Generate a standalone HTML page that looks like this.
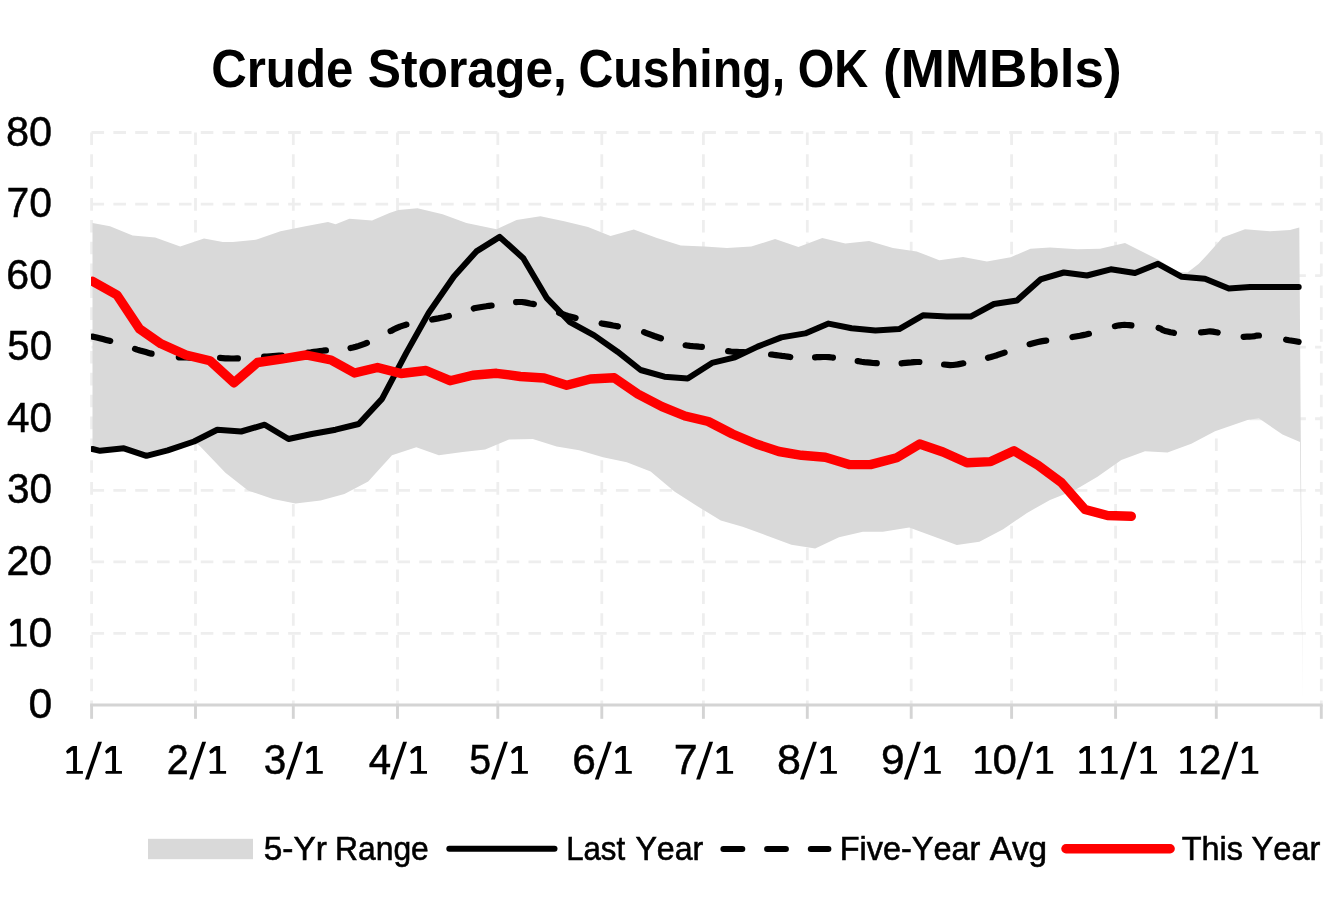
<!DOCTYPE html>
<html lang="en">
<head>
<meta charset="utf-8">
<title>Crude Storage, Cushing, OK (MMBbls)</title>
<style>
  html, body { margin: 0; padding: 0; background: #ffffff; }
  body { width: 1333px; height: 900px; overflow: hidden; font-family: "Liberation Sans", sans-serif; }
  svg { display: block; }
  svg { will-change: transform; }
  text { font-family: "Liberation Sans", sans-serif; fill: #000000; font-kerning: none; }
  .title text { font-weight: bold; font-size: 53.5px; }
  .axis text { font-size: 43.0px; stroke: #000000; stroke-width: 0.5px; }
  .axis path { fill: #000000; }
  .legend text { font-size: 34.0px; stroke: #000000; stroke-width: 0.6px; }
</style>
</head>
<body>
<svg width="1333" height="900" viewBox="0 0 1333 900">
  <rect x="0" y="0" width="1333" height="900" fill="#ffffff"/>

  <defs><clipPath id="plot"><rect x="91" y="100" width="1240" height="640"/></clipPath></defs>

  <!-- chart title -->
  <g class="title">
    <text x="211.18" y="87.20" textLength="142.20" lengthAdjust="spacingAndGlyphs">Crude</text>
    <text x="367.77" y="87.20" textLength="199.16" lengthAdjust="spacingAndGlyphs">Storage,</text>
    <text x="578.42" y="87.20" textLength="206.82" lengthAdjust="spacingAndGlyphs">Cushing,</text>
    <text x="797.77" y="87.20" textLength="70.46" lengthAdjust="spacingAndGlyphs">OK</text>
    <text x="883.06" y="87.20" textLength="238.68" lengthAdjust="spacingAndGlyphs">(MMBbls)</text>
  </g>

  <!-- gridlines -->
  <g stroke="#eeeeee" stroke-width="2.8" stroke-dasharray="12.6 9.25" fill="none">
    <line x1="91.5" y1="132.50" x2="1321.3" y2="132.50"/><line x1="91.5" y1="204.06" x2="1321.3" y2="204.06"/><line x1="91.5" y1="275.62" x2="1321.3" y2="275.62"/><line x1="91.5" y1="347.18" x2="1321.3" y2="347.18"/><line x1="91.5" y1="418.74" x2="1321.3" y2="418.74"/><line x1="91.5" y1="490.30" x2="1321.3" y2="490.30"/><line x1="91.5" y1="561.86" x2="1321.3" y2="561.86"/><line x1="91.5" y1="633.42" x2="1321.3" y2="633.42"/><line x1="91.6" y1="132.50" x2="91.6" y2="704.98"/><line x1="195.5" y1="132.50" x2="195.5" y2="704.98"/><line x1="293.3" y1="132.50" x2="293.3" y2="704.98"/><line x1="397.5" y1="132.50" x2="397.5" y2="704.98"/><line x1="497.8" y1="132.50" x2="497.8" y2="704.98"/><line x1="601.8" y1="132.50" x2="601.8" y2="704.98"/><line x1="703.4" y1="132.50" x2="703.4" y2="704.98"/><line x1="807.3" y1="132.50" x2="807.3" y2="704.98"/><line x1="911.2" y1="132.50" x2="911.2" y2="704.98"/><line x1="1011.6" y1="132.50" x2="1011.6" y2="704.98"/><line x1="1115.6" y1="132.50" x2="1115.6" y2="704.98"/><line x1="1216.3" y1="132.50" x2="1216.3" y2="704.98"/><line x1="1321.3" y1="132.50" x2="1321.3" y2="704.98"/>
  </g>

  <!-- 5-year range band (opaque, above the grid) -->
  <polygon fill="#d9d9d9" points="92.5,223.1 110.0,226.3 132.6,235.6 155.2,237.6 180.2,246.4 204.0,238.4 222.8,241.9 232.9,242.1 256.7,239.6 280.5,231.3 305.5,226.3 328.0,222.1 335.6,224.3 349.4,218.8 372.0,220.6 389.5,213.0 398.3,210.0 417.5,208.3 442.6,214.3 466.4,223.1 496.5,229.3 516.5,220.1 540.4,216.3 564.2,221.3 588.0,227.1 610.5,235.9 633.8,229.6 656.9,238.1 680.7,245.6 704.5,246.4 727.0,248.1 751.3,246.6 775.1,238.9 798.4,246.9 822.3,238.1 845.3,243.4 869.1,240.9 892.9,248.1 916.7,251.4 939.3,260.2 963.1,256.9 986.9,261.4 1010.7,257.2 1030.5,248.8 1050.0,247.5 1077.5,249.3 1100.0,248.8 1125.0,243.0 1158.8,260.0 1178.0,272.0 1187.5,272.5 1198.8,263.8 1207.5,254.5 1222.5,237.5 1245.0,229.3 1270.0,231.3 1290.0,230.0 1299.3,227.5 1302.7,705.0 1300.0,442.0 1282.5,434.5 1258.8,418.3 1247.5,420.0 1215.0,431.3 1191.3,443.8 1167.5,452.5 1145.0,451.3 1121.3,460.0 1097.5,476.8 1075.0,490.0 1050.0,500.0 1027.0,512.9 1003.2,529.2 979.4,541.8 956.8,545.0 933.0,536.2 909.2,527.5 882.9,531.7 862.9,531.7 839.0,537.2 815.2,548.5 791.4,544.8 766.4,535.5 742.6,526.7 720.8,520.5 698.2,506.7 674.4,491.6 650.6,471.6 626.8,462.3 603.0,457.3 579.2,450.3 556.6,446.5 532.8,439.0 509.0,439.5 485.2,449.5 462.7,452.0 438.8,455.3 416.3,447.3 392.0,455.3 368.2,481.6 344.4,494.1 320.6,500.4 295.5,503.4 273.0,499.1 248.0,490.4 225.4,472.8 200.3,446.5 194.0,441.5 167.7,450.3 146.4,455.8 123.9,448.3 100.0,450.8 92.5,449.0"/>

  <!-- x axis line + ticks -->
  <g stroke="#d4d4d4" stroke-width="2.9" fill="none">
    <line x1="90.1" y1="705.0" x2="1322.7" y2="705.0"/>
    <line x1="91.6" y1="705.0" x2="91.6" y2="718.8"/><line x1="195.5" y1="705.0" x2="195.5" y2="718.8"/><line x1="293.3" y1="705.0" x2="293.3" y2="718.8"/><line x1="397.5" y1="705.0" x2="397.5" y2="718.8"/><line x1="497.8" y1="705.0" x2="497.8" y2="718.8"/><line x1="601.8" y1="705.0" x2="601.8" y2="718.8"/><line x1="703.4" y1="705.0" x2="703.4" y2="718.8"/><line x1="807.3" y1="705.0" x2="807.3" y2="718.8"/><line x1="911.2" y1="705.0" x2="911.2" y2="718.8"/><line x1="1011.6" y1="705.0" x2="1011.6" y2="718.8"/><line x1="1115.6" y1="705.0" x2="1115.6" y2="718.8"/><line x1="1216.3" y1="705.0" x2="1216.3" y2="718.8"/><line x1="1321.3" y1="705.0" x2="1321.3" y2="718.8"/>
  </g>

  <!-- last year -->
  <polyline clip-path="url(#plot)" fill="none" stroke="#000000" stroke-width="6" stroke-linejoin="round" stroke-linecap="round" points="92.5,449.0 100.0,450.8 123.9,448.3 146.4,455.8 167.7,450.3 194.0,441.5 217.3,429.7 241.2,431.5 264.7,424.7 288.5,439.0 311.8,434.0 335.6,429.7 358.7,424.0 382.0,398.9 406.3,352.9 428.8,312.8 453.9,276.5 476.4,251.4 499.7,236.9 523.3,258.2 546.6,297.8 569.9,322.1 594.2,335.4 617.5,351.7 640.6,370.0 664.4,376.7 687.7,378.5 712.0,362.9 735.0,357.4 757.6,346.6 781.4,337.4 805.2,333.4 828.5,323.6 851.6,328.3 875.4,330.4 899.2,329.1 923.0,315.3 946.8,316.6 970.6,316.6 993.9,304.0 1017.0,300.5 1040.5,279.4 1063.8,272.5 1087.0,275.5 1110.8,269.3 1135.0,273.0 1158.0,263.8 1181.8,276.8 1205.0,278.8 1228.8,288.6 1250.0,287.0 1298.7,287.0"/>

  <!-- five-year average (dashed) -->
  <path clip-path="url(#plot)" fill="none" stroke="#000000" stroke-width="6.2" stroke-linejoin="round" stroke-linecap="round" d="M92.5 336.6 L94.3 337.0 L96.7 337.6 L99.6 338.3 L102.8 339.1 L106.1 339.9 L109.5 340.7 L110.2 340.9 M135.0 348.9 L137.0 349.6 L140.0 350.5 L142.9 351.3 L145.8 352.1 L148.7 352.9 L151.5 353.7 L151.6 353.7 M178.8 357.3 L181.0 357.3 L184.0 357.4 L187.0 357.5 L190.0 357.6 L193.0 357.6 L195.9 357.6 M220.1 357.9 L222.5 358.1 L225.3 358.3 L228.2 358.4 L231.1 358.5 L234.0 358.5 L237.0 358.4 L237.9 358.4 M264.1 356.6 L267.0 356.5 L270.1 356.3 L273.1 356.1 L276.1 355.9 L279.0 355.7 L281.9 355.5 M308.1 352.6 L310.9 352.3 L313.9 351.9 L316.9 351.5 L320.0 351.1 L323.0 350.7 L325.9 350.4 M350.5 348.0 L353.0 347.5 L355.9 346.8 L358.8 345.9 L361.7 344.9 L364.5 343.9 L366.9 342.9 M390.6 331.1 L391.0 330.9 L394.0 329.3 L397.0 327.9 L400.0 326.6 L403.0 325.6 L406.0 324.7 L406.4 324.6 M432.1 319.5 L432.7 319.4 L435.5 318.9 L438.3 318.4 L441.2 317.8 L444.1 317.2 L447.0 316.5 L448.9 316.0 M473.8 308.4 L474.0 308.3 L477.0 307.7 L480.0 307.2 L483.1 306.7 L486.1 306.3 L489.1 305.8 L491.6 305.5 M516.1 302.1 L518.0 302.0 L521.8 302.0 L524.7 302.4 L527.3 302.9 L530.0 303.5 L532.7 303.9 L533.9 304.1 M559.1 312.9 L562.0 314.0 L565.0 315.0 L568.0 315.9 L570.9 316.7 L573.9 317.5 L575.6 318.0 M601.6 323.5 L604.0 323.9 L607.0 324.4 L610.0 324.9 L613.0 325.5 L616.0 326.0 L617.9 326.4 M644.1 332.2 L645.7 332.8 L648.5 333.8 L651.3 334.9 L654.2 336.0 L657.1 337.0 L660.0 338.0 L660.9 338.3 M685.6 345.3 L687.0 345.5 L690.0 345.9 L693.0 346.2 L696.1 346.4 L699.1 346.7 L701.9 346.9 M728.1 351.1 L731.0 351.5 L734.0 351.8 L736.9 351.9 L739.9 352.0 L742.9 352.1 L743.9 352.1 M771.1 354.5 L773.1 354.7 L776.0 355.1 L779.0 355.5 L781.9 355.9 L784.8 356.2 L787.7 356.6 L790.3 357.0 M815.1 357.4 L817.0 357.2 L820.0 357.1 L823.0 357.0 L826.0 357.0 L829.0 357.2 L832.0 357.5 L832.9 357.6 M857.7 361.1 L858.7 361.2 L861.5 361.7 L864.3 362.1 L867.2 362.4 L870.1 362.7 L873.0 363.0 L876.0 363.2 L876.8 363.2 M901.6 363.3 L902.8 363.2 L905.7 362.9 L908.5 362.6 L911.3 362.4 L914.2 362.1 L917.1 362.0 L919.4 362.0 M944.1 364.5 L947.9 364.9 L950.2 365.1 L953.0 365.0 L955.3 364.7 L957.8 364.4 L960.4 363.9 L963.3 363.3 M988.0 357.8 L991.0 357.0 L994.0 356.1 L997.0 355.2 L1000.0 354.1 L1003.1 353.1 L1004.6 352.6 M1029.6 344.2 L1032.2 343.5 L1035.1 342.7 L1038.0 342.0 L1041.0 341.4 L1043.9 340.9 L1046.2 340.6 M1072.4 337.0 L1074.0 336.7 L1077.0 336.2 L1080.0 335.7 L1083.0 335.1 L1086.0 334.5 L1088.9 333.8 M1114.9 326.2 L1116.8 325.8 L1119.4 325.3 L1122.0 325.0 L1124.5 324.9 L1126.8 325.0 L1129.4 325.2 L1131.4 325.4 M1158.6 328.0 L1160.6 328.6 L1162.3 329.9 L1165.0 331.0 L1167.6 331.6 L1170.4 332.3 L1173.6 332.8 L1173.9 332.9 M1201.1 332.3 L1202.9 332.2 L1205.0 332.0 L1208.4 331.5 L1210.0 331.3 L1212.8 331.6 L1216.1 332.2 L1217.7 332.5 M1243.6 336.8 L1243.9 336.8 L1246.9 336.7 L1249.7 336.6 L1252.0 336.5 L1255.0 336.1 L1257.1 335.6 L1258.9 335.5 M1286.1 339.7 L1289.0 340.2 L1292.4 340.7 L1295.5 341.2 L1298.1 341.7 L1298.6 341.8"/>

  <!-- this year -->
  <polyline clip-path="url(#plot)" fill="none" stroke="#ff0000" stroke-width="9.4" stroke-linejoin="round" stroke-linecap="round" points="92.5,281.3 117.0,295.0 139.5,328.8 161.0,343.8 186.0,355.0 210.0,360.8 234.0,382.8 257.5,362.5 282.5,358.8 306.0,355.0 331.0,360.0 354.5,373.0 377.5,367.5 401.0,373.5 426.0,370.5 450.0,380.7 472.7,375.3 496.5,373.3 520.3,376.5 544.0,378.0 566.7,385.3 590.5,379.0 614.3,377.8 638.0,394.1 662.0,406.6 685.0,416.0 708.3,421.5 732.5,434.0 756.3,444.0 778.9,451.5 801.5,455.3 825.3,457.3 849.1,464.6 870.4,464.6 896.7,457.8 919.7,444.0 943.0,452.0 966.9,462.8 990.7,461.6 1014.0,450.8 1038.0,465.2 1061.3,482.5 1085.0,509.5 1107.5,515.5 1131.3,516.3"/>

  <!-- axis labels -->
  <g class="axis">
    <text x="5.89" y="145.60" textLength="46.23" lengthAdjust="spacingAndGlyphs">80</text>
    <text x="6.60" y="217.16" textLength="45.49" lengthAdjust="spacingAndGlyphs">70</text>
    <text x="6.31" y="288.72" textLength="45.80" lengthAdjust="spacingAndGlyphs">60</text>
    <text x="7.29" y="360.28" textLength="44.78" lengthAdjust="spacingAndGlyphs">50</text>
    <text x="7.07" y="431.84" textLength="45.01" lengthAdjust="spacingAndGlyphs">40</text>
    <text x="7.06" y="503.40" textLength="45.02" lengthAdjust="spacingAndGlyphs">30</text>
    <text x="6.54" y="574.96" textLength="45.56" lengthAdjust="spacingAndGlyphs">20</text>
    <path d="M16.86 618.72 L14.90 619.52 L12.10 621.52 L9.80 624.02 L11.00 626.52 L13.50 625.42 L15.50 623.42 L16.86 623.42 L16.86 643.72 L10.80 643.72 L9.80 644.92 L10.80 646.52 L26.70 646.52 L26.70 643.72 L20.76 643.72 L20.76 618.72Z"/>
    <text x="28.43" y="646.52" textLength="23.73" lengthAdjust="spacingAndGlyphs">0</text>
    <text x="28.43" y="718.08" textLength="23.73" lengthAdjust="spacingAndGlyphs">0</text>
    <path d="M73.06 746.00 L71.10 746.80 L68.30 748.80 L66.00 751.30 L67.20 753.80 L69.70 752.70 L71.70 750.70 L73.06 750.70 L73.06 771.00 L67.00 771.00 L66.00 772.20 L67.00 773.80 L82.90 773.80 L82.90 771.00 L76.96 771.00 L76.96 746.00Z"/>
    <path d="M85.00 779.60 L88.90 779.60 L101.94 741.80 L98.04 741.80Z"/>
    <path d="M112.10 746.00 L110.14 746.80 L107.34 748.80 L105.04 751.30 L106.24 753.80 L108.74 752.70 L110.74 750.70 L112.10 750.70 L112.10 771.00 L106.04 771.00 L105.04 772.20 L106.04 773.80 L121.94 773.80 L121.94 771.00 L116.00 771.00 L116.00 746.00Z"/>
    <text x="166.71" y="773.80" textLength="21.97" lengthAdjust="spacingAndGlyphs">2</text>
    <path d="M189.16 779.60 L193.06 779.60 L206.10 741.80 L202.20 741.80Z"/>
    <path d="M216.26 746.00 L214.30 746.80 L211.50 748.80 L209.20 751.30 L210.40 753.80 L212.90 752.70 L214.90 750.70 L216.26 750.70 L216.26 771.00 L210.20 771.00 L209.20 772.20 L210.20 773.80 L226.10 773.80 L226.10 771.00 L220.16 771.00 L220.16 746.00Z"/>
    <text x="263.86" y="773.80" textLength="22.52" lengthAdjust="spacingAndGlyphs">3</text>
    <path d="M285.86 779.60 L289.76 779.60 L302.80 741.80 L298.90 741.80Z"/>
    <path d="M312.96 746.00 L311.00 746.80 L308.20 748.80 L305.90 751.30 L307.10 753.80 L309.60 752.70 L311.60 750.70 L312.96 750.70 L312.96 771.00 L306.90 771.00 L305.90 772.20 L306.90 773.80 L322.80 773.80 L322.80 771.00 L316.86 771.00 L316.86 746.00Z"/>
    <text x="368.68" y="773.80" textLength="22.40" lengthAdjust="spacingAndGlyphs">4</text>
    <path d="M390.06 779.60 L393.96 779.60 L407.00 741.80 L403.10 741.80Z"/>
    <path d="M417.16 746.00 L415.20 746.80 L412.40 748.80 L410.10 751.30 L411.30 753.80 L413.80 752.70 L415.80 750.70 L417.16 750.70 L417.16 771.00 L411.10 771.00 L410.10 772.20 L411.10 773.80 L427.00 773.80 L427.00 771.00 L421.06 771.00 L421.06 746.00Z"/>
    <text x="469.32" y="773.80" textLength="21.94" lengthAdjust="spacingAndGlyphs">5</text>
    <path d="M490.96 779.60 L494.86 779.60 L507.90 741.80 L504.00 741.80Z"/>
    <path d="M518.06 746.00 L516.10 746.80 L513.30 748.80 L511.00 751.30 L512.20 753.80 L514.70 752.70 L516.70 750.70 L518.06 750.70 L518.06 771.00 L512.00 771.00 L511.00 772.20 L512.00 773.80 L527.90 773.80 L527.90 771.00 L521.96 771.00 L521.96 746.00Z"/>
    <text x="572.24" y="773.80" textLength="23.62" lengthAdjust="spacingAndGlyphs">6</text>
    <path d="M594.86 779.60 L598.76 779.60 L611.80 741.80 L607.90 741.80Z"/>
    <path d="M621.96 746.00 L620.00 746.80 L617.20 748.80 L614.90 751.30 L616.10 753.80 L618.60 752.70 L620.60 750.70 L621.96 750.70 L621.96 771.00 L615.90 771.00 L614.90 772.20 L615.90 773.80 L631.80 773.80 L631.80 771.00 L625.86 771.00 L625.86 746.00Z"/>
    <text x="673.69" y="773.80" textLength="23.98" lengthAdjust="spacingAndGlyphs">7</text>
    <path d="M696.16 779.60 L700.06 779.60 L713.10 741.80 L709.20 741.80Z"/>
    <path d="M723.26 746.00 L721.30 746.80 L718.50 748.80 L716.20 751.30 L717.40 753.80 L719.90 752.70 L721.90 750.70 L723.26 750.70 L723.26 771.00 L717.20 771.00 L716.20 772.20 L717.20 773.80 L733.10 773.80 L733.10 771.00 L727.16 771.00 L727.16 746.00Z"/>
    <text x="776.93" y="773.80" textLength="23.94" lengthAdjust="spacingAndGlyphs">8</text>
    <path d="M799.96 779.60 L803.86 779.60 L816.90 741.80 L813.00 741.80Z"/>
    <path d="M827.06 746.00 L825.10 746.80 L822.30 748.80 L820.00 751.30 L821.20 753.80 L823.70 752.70 L825.70 750.70 L827.06 750.70 L827.06 771.00 L821.00 771.00 L820.00 772.20 L821.00 773.80 L836.90 773.80 L836.90 771.00 L830.96 771.00 L830.96 746.00Z"/>
    <text x="881.01" y="773.80" textLength="23.60" lengthAdjust="spacingAndGlyphs">9</text>
    <path d="M903.86 779.60 L907.76 779.60 L920.80 741.80 L916.90 741.80Z"/>
    <path d="M930.96 746.00 L929.00 746.80 L926.20 748.80 L923.90 751.30 L925.10 753.80 L927.60 752.70 L929.60 750.70 L930.96 750.70 L930.96 771.00 L924.90 771.00 L923.90 772.20 L924.90 773.80 L940.80 773.80 L940.80 771.00 L934.86 771.00 L934.86 746.00Z"/>
    <path d="M981.81 746.00 L979.85 746.80 L977.05 748.80 L974.75 751.30 L975.95 753.80 L978.45 752.70 L980.45 750.70 L981.81 750.70 L981.81 771.00 L975.75 771.00 L974.75 772.20 L975.75 773.80 L991.65 773.80 L991.65 771.00 L985.71 771.00 L985.71 746.00Z"/>
    <text x="992.58" y="773.80" textLength="24.43" lengthAdjust="spacingAndGlyphs">0</text>
    <path d="M1016.26 779.60 L1020.16 779.60 L1033.20 741.80 L1029.30 741.80Z"/>
    <path d="M1043.36 746.00 L1041.40 746.80 L1038.60 748.80 L1036.30 751.30 L1037.50 753.80 L1040.00 752.70 L1042.00 750.70 L1043.36 750.70 L1043.36 771.00 L1037.30 771.00 L1036.30 772.20 L1037.30 773.80 L1053.20 773.80 L1053.20 771.00 L1047.26 771.00 L1047.26 746.00Z"/>
    <path d="M1086.06 746.00 L1084.10 746.80 L1081.30 748.80 L1079.00 751.30 L1080.20 753.80 L1082.70 752.70 L1084.70 750.70 L1086.06 750.70 L1086.06 771.00 L1080.00 771.00 L1079.00 772.20 L1080.00 773.80 L1095.90 773.80 L1095.90 771.00 L1089.96 771.00 L1089.96 746.00Z"/>
    <path d="M1107.86 746.00 L1105.90 746.80 L1103.10 748.80 L1100.80 751.30 L1102.00 753.80 L1104.50 752.70 L1106.50 750.70 L1107.86 750.70 L1107.86 771.00 L1101.80 771.00 L1100.80 772.20 L1101.80 773.80 L1117.70 773.80 L1117.70 771.00 L1111.76 771.00 L1111.76 746.00Z"/>
    <path d="M1120.06 779.60 L1123.96 779.60 L1137.00 741.80 L1133.10 741.80Z"/>
    <path d="M1147.16 746.00 L1145.20 746.80 L1142.40 748.80 L1140.10 751.30 L1141.30 753.80 L1143.80 752.70 L1145.80 750.70 L1147.16 750.70 L1147.16 771.00 L1141.10 771.00 L1140.10 772.20 L1141.10 773.80 L1157.00 773.80 L1157.00 771.00 L1151.06 771.00 L1151.06 746.00Z"/>
    <path d="M1186.96 746.00 L1185.00 746.80 L1182.20 748.80 L1179.90 751.30 L1181.10 753.80 L1183.60 752.70 L1185.60 750.70 L1186.96 750.70 L1186.96 771.00 L1180.90 771.00 L1179.90 772.20 L1180.90 773.80 L1196.80 773.80 L1196.80 771.00 L1190.86 771.00 L1190.86 746.00Z"/>
    <text x="1198.88" y="773.80" textLength="22.34" lengthAdjust="spacingAndGlyphs">2</text>
    <path d="M1221.36 779.60 L1225.26 779.60 L1238.30 741.80 L1234.40 741.80Z"/>
    <path d="M1248.46 746.00 L1246.50 746.80 L1243.70 748.80 L1241.40 751.30 L1242.60 753.80 L1245.10 752.70 L1247.10 750.70 L1248.46 750.70 L1248.46 771.00 L1242.40 771.00 L1241.40 772.20 L1242.40 773.80 L1258.30 773.80 L1258.30 771.00 L1252.36 771.00 L1252.36 746.00Z"/>
  </g>

  <!-- legend -->
  <g class="legend">
    <rect x="148" y="838.8" width="105" height="20.4" fill="#d9d9d9"/>
    <line x1="449.3" y1="848.8" x2="554.5" y2="848.8" stroke="#000000" stroke-width="6" stroke-linecap="round"/>
    <g stroke="#000000" stroke-width="6" stroke-linecap="round">
      <line x1="723.4" y1="848.9" x2="742.3" y2="848.9"/>
      <line x1="767.1" y1="848.9" x2="785.9" y2="848.9"/>
      <line x1="810.8" y1="848.9" x2="828.4" y2="848.9"/>
    </g>
    <line x1="1066" y1="848.75" x2="1170.1" y2="848.75" stroke="#ff0000" stroke-width="9.5" stroke-linecap="round"/>
    <text x="263.77" y="859.90" textLength="62.99" lengthAdjust="spacingAndGlyphs">5-Yr</text>
    <text x="335.09" y="859.90" textLength="93.72" lengthAdjust="spacingAndGlyphs">Range</text>
    <text x="566.14" y="859.90" textLength="58.99" lengthAdjust="spacingAndGlyphs">Last</text>
    <text x="635.39" y="859.90" textLength="67.94" lengthAdjust="spacingAndGlyphs">Year</text>
    <text x="839.74" y="859.90" textLength="140.60" lengthAdjust="spacingAndGlyphs">Five-Year</text>
    <text x="989.73" y="859.90" textLength="57.41" lengthAdjust="spacingAndGlyphs">Avg</text>
    <text x="1181.67" y="859.90" textLength="61.30" lengthAdjust="spacingAndGlyphs">This</text>
    <text x="1251.58" y="859.90" textLength="68.76" lengthAdjust="spacingAndGlyphs">Year</text>
  </g>
</svg>
</body>
</html>
